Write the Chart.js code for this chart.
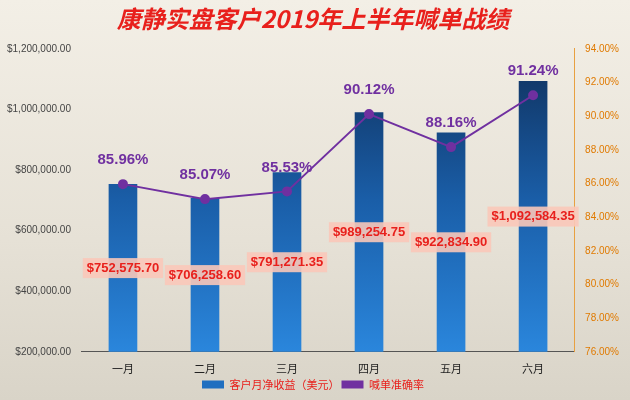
<!DOCTYPE html>
<html>
<head>
<meta charset="utf-8" />
<title>康静实盘客户2019年上半年喊单战绩</title>
<style>
  html, body { margin: 0; padding: 0; overflow: hidden; }
  body { width: 630px; height: 400px; background: linear-gradient(#f3efe6, #e6e1d6 60%, #d9d4c8); }
</style>
</head>
<body>
<canvas id="stage" width="630" height="400"></canvas>
<script src="https://cdn.jsdelivr.net/npm/chart.js@4.4.0/dist/chart.umd.min.js"></script>
<script>
  const months = ['一月', '二月', '三月', '四月', '五月', '六月'];
  const income = [752575.70, 706258.60, 791271.35, 989254.75, 922834.90, 1092584.35];
  const accuracy = [85.96, 85.07, 85.53, 90.12, 88.16, 91.24];

  const money = v => '$' + v.toLocaleString('en-US', { minimumFractionDigits: 2, maximumFractionDigits: 2 });

  // 数值标签
  const labels = {
    id: 'labels',
    afterDatasetsDraw(chart) {
      const ctx = chart.ctx;
      const bottom = chart.chartArea.bottom;
      ctx.save();
      ctx.textAlign = 'center';
      ctx.textBaseline = 'middle';
      ctx.font = 'bold 13px "Liberation Sans", Arial';
      chart.getDatasetMeta(0).data.forEach((bar, i) => {
        const y = (bar.y + bottom) / 2;
        const t = money(income[i]);
        const w = ctx.measureText(t).width + 8;
        ctx.fillStyle = 'rgba(250,200,185,0.9)';
        ctx.fillRect(bar.x - w / 2, y - 10, w, 20);
        ctx.fillStyle = '#e8201c';
        ctx.fillText(t, bar.x, y);
      });
      ctx.font = 'bold 15px "Liberation Sans", Arial';
      ctx.fillStyle = '#7030a0';
      chart.getDatasetMeta(1).data.forEach((p, i) => {
        ctx.fillText(accuracy[i].toFixed(2) + '%', p.x, p.y - 24);
      });
      ctx.restore();
    }
  };

  new Chart(document.getElementById('stage'), {
    data: {
      labels: months,
      datasets: [{
        type: 'bar',
        label: '客户月净收益（美元）',
        data: income,
        yAxisID: 'y',
        order: 2,
        barThickness: 28,
        backgroundColor: c => {
          const a = c.chart.chartArea;
          if (!a) return '#1f6fc0';
          const g = c.chart.ctx.createLinearGradient(0, a.top, 0, a.bottom);
          g.addColorStop(0, '#0f2f5a');
          g.addColorStop(0.5, '#1a5ea8');
          g.addColorStop(1, '#2a86dc');
          return g;
        }
      }, {
        type: 'line',
        label: '喊单准确率',
        data: accuracy,
        yAxisID: 'y1',
        order: 1,
        borderColor: '#7030a0',
        backgroundColor: '#7030a0',
        borderWidth: 2,
        pointRadius: 4,
        pointBackgroundColor: '#7030a0',
        tension: 0
      }]
    },
    options: {
      responsive: false,
      animation: false,
      devicePixelRatio: 1,
      layout: { padding: { left: 4, right: 8, top: 0, bottom: 0 } },
      plugins: {
        title: {
          display: true,
          text: '康静实盘客户2019年上半年喊单战绩',
          color: '#e8201c',
          font: { size: 24, weight: 'bold', style: 'italic', family: '"Noto Sans CJK SC"' },
          padding: { top: 4, bottom: 16 }
        },
        legend: {
          position: 'bottom',
          labels: {
            color: '#e8201c',
            font: { size: 11, family: '"Noto Sans CJK SC"' },
            boxWidth: 22,
            boxHeight: 8,
            padding: 2,
            generateLabels: chart => [
              { text: '客户月净收益（美元）', fillStyle: '#1f6fc0', strokeStyle: '#1f6fc0', lineWidth: 0, fontColor: '#e8201c', datasetIndex: 0 },
              { text: '喊单准确率', fillStyle: '#7030a0', strokeStyle: '#7030a0', lineWidth: 0, fontColor: '#e8201c', datasetIndex: 1 }
            ]
          }
        },
        tooltip: { enabled: false }
      },
      scales: {
        x: {
          grid: { display: false },
          border: { color: '#555' },
          ticks: { color: '#222', padding: 2, font: { size: 11, family: '"Noto Sans CJK SC"' } }
        },
        y: {
          position: 'left',
          min: 200000,
          max: 1200000,
          ticks: { stepSize: 200000, color: '#444', font: { size: 10 }, callback: v => money(v) },
          grid: { display: false },
          border: { display: false }
        },
        y1: {
          position: 'right',
          min: 76,
          max: 94,
          ticks: { stepSize: 2, color: '#e07a00', font: { size: 10 }, callback: v => v.toFixed(2) + '%' },
          grid: { display: false },
          border: { color: '#e8a040' }
        }
      }
    },
    plugins: [labels]
  });
</script>
</body>
</html>
